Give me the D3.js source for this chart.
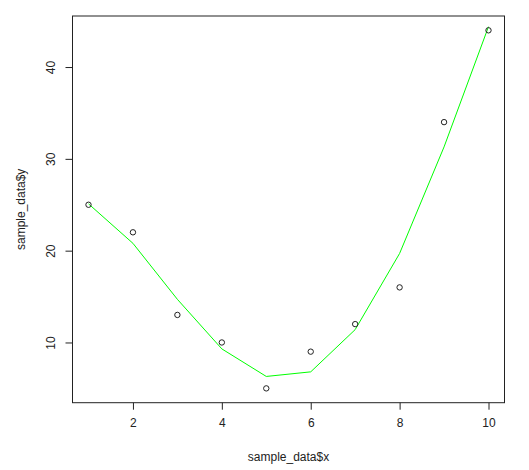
<!DOCTYPE html>
<html>
<head>
<meta charset="utf-8">
<script src="https://cdn.jsdelivr.net/npm/d3@7"></script>
<style>
  html, body { margin: 0; padding: 0; background: #fff; }
  svg { display: block; }
  text { font-family: "Liberation Sans", Arial, Helvetica, sans-serif; fill: #222; }
</style>
</head>
<body>
<svg id="chart" width="529" height="470"></svg>
<script>
const xValues = [1, 2, 3, 4, 5, 6, 7, 8, 9, 10];
const yValues = [25, 22, 13, 10, 5, 9, 12, 16, 34, 44];
const fitValues = [25.1, 20.8, 14.7, 9.3, 6.3, 6.8, 11.4, 19.7, 31.3, 44.4];
const xTicks = [2, 4, 6, 8, 10];
const yTicks = [10, 20, 30, 40];
const xLabel = "sample_data$x";
const yLabel = "sample_data$y";

const svg = d3.select("#chart");
const box = { left: 72.5, right: 504.5, top: 16, bottom: 402.7 };

function padded(min, max) { const r = max - min; return [min - 0.04 * r, max + 0.04 * r]; }

const x = d3.scaleLinear().domain(padded(d3.min(xValues), d3.max(xValues))).range([box.left, box.right]);
const y = d3.scaleLinear().domain(padded(d3.min(yValues), d3.max(yValues))).range([box.bottom, box.top]);

// Fitted line
const fit = xValues.map((v, i) => [v, fitValues[i]]);
svg.append("path")
  .datum(fit)
  .attr("fill", "none")
  .attr("stroke", "#00ff00")
  .attr("stroke-width", 1)
  .attr("d", d3.line().x(d => x(d[0])).y(d => y(d[1])));

// Points
svg.append("g").selectAll("circle")
  .data(xValues.map((v, i) => [v, yValues[i]]))
  .join("circle")
  .attr("cx", d => x(d[0]))
  .attr("cy", d => y(d[1]))
  .attr("r", 2.7)
  .attr("fill", "none")
  .attr("stroke", "#222")
  .attr("stroke-width", 1);

// Box
svg.append("rect")
  .attr("x", box.left).attr("y", box.top)
  .attr("width", box.right - box.left).attr("height", box.bottom - box.top)
  .attr("fill", "none").attr("stroke", "#222").attr("stroke-width", 1);

// X axis
const xAxis = d3.axisBottom(x).tickValues(xTicks).tickSize(7).tickPadding(9).tickFormat(d3.format("d"));
const gx = svg.append("g").attr("transform", `translate(0,${box.bottom})`).call(xAxis);
gx.select(".domain").remove();
gx.selectAll("line").attr("stroke", "#222");
gx.selectAll("text").attr("font-size", 12).attr("fill", "#222")
  .attr("font-family", "'Liberation Sans', Arial, sans-serif");

// Y axis
const yAxis = d3.axisLeft(y).tickValues(yTicks).tickSize(7).tickFormat(d3.format("d"));
const gy = svg.append("g").attr("transform", `translate(${box.left},0)`).call(yAxis);
gy.select(".domain").remove();
gy.selectAll("line").attr("stroke", "#222");
gy.selectAll("text")
  .attr("font-size", 12).attr("fill", "#222")
  .attr("font-family", "'Liberation Sans', Arial, sans-serif")
  .attr("x", null).attr("dy", null)
  .attr("text-anchor", "middle")
  .attr("transform", d => `translate(${51 - box.left},${y(d) - y(d)}) rotate(-90) translate(0,4)`);

// Axis titles
svg.append("text")
  .attr("x", (box.left + box.right) / 2).attr("y", 461)
  .attr("text-anchor", "middle").attr("font-size", 12)
  .text(xLabel);

svg.append("text")
  .attr("transform", `translate(25,${(box.top + box.bottom) / 2}) rotate(-90)`)
  .attr("text-anchor", "middle").attr("font-size", 12)
  .text(yLabel);
</script>
</body>
</html>
